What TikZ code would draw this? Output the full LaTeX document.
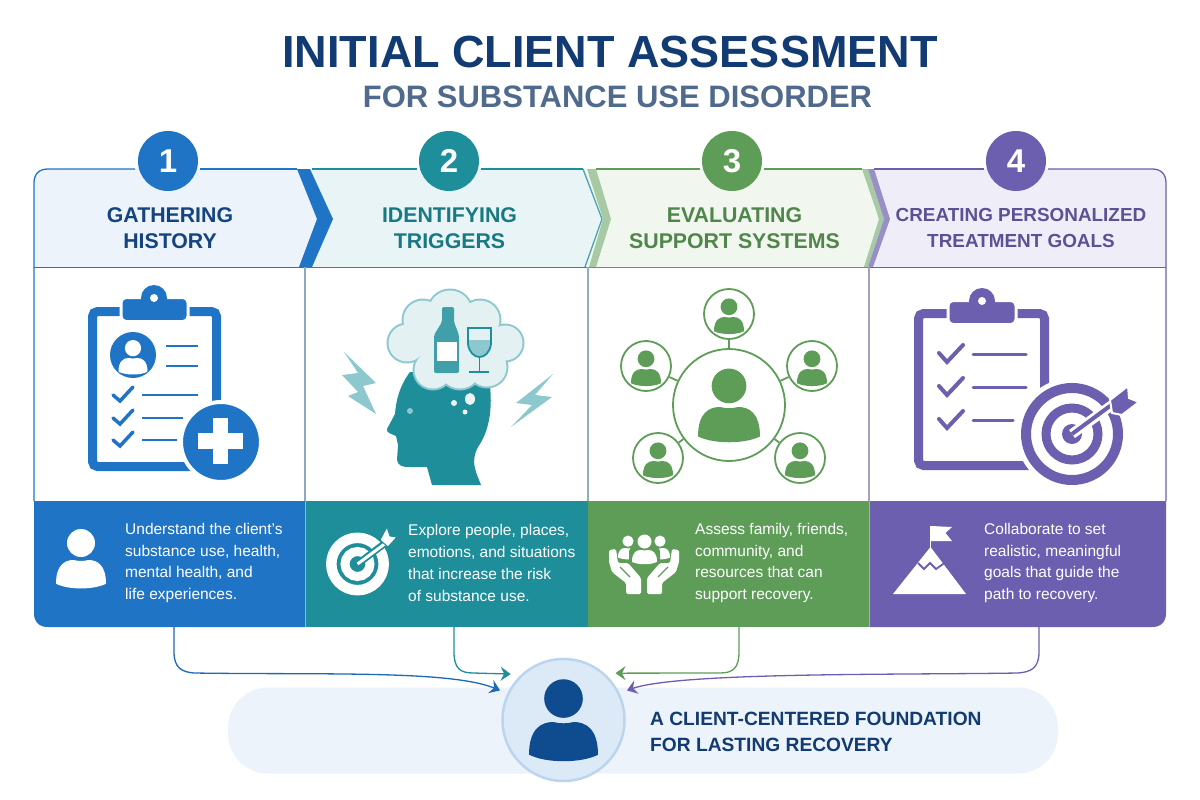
\documentclass[tikz,border=0pt]{standalone}
\usepackage{fontspec}
\setmainfont{Liberation Sans}
\usetikzlibrary{arrows.meta,shapes.geometric}

\definecolor{colblue}{HTML}{1F74C6}
\definecolor{colteal}{HTML}{1E8E9A}
\definecolor{colgreen}{HTML}{5E9D58}
\definecolor{colpurple}{HTML}{6C5FAF}
\definecolor{navy}{HTML}{123B73}
\definecolor{slate}{HTML}{4F6A8C}
\definecolor{paleblue}{HTML}{EDF3FB}
\definecolor{paleteal}{HTML}{E8F4F6}
\definecolor{palegreen}{HTML}{F1F6EE}
\definecolor{palepurple}{HTML}{EFEEF8}
\definecolor{cloudfill}{HTML}{E3F1F3}
\definecolor{lightteal}{HTML}{8CC8CE}
\definecolor{clientblue}{HTML}{0F4C8F}
\definecolor{clientfill}{HTML}{DCEAF8}

\newcommand{\sizedfont}[2]{\fontsize{#1}{#2}\selectfont}
% person: shoulders start at the given point, head above them
\newcommand{\personicon}[4]{
	\begin{scope}[shift={(#1,#2)},scale=#3]
		\fill[#4] (0,-0.68) circle[radius=0.56];
		\fill[#4] (-1,0.95) .. controls (-1,0.2) and (-0.65,0) .. (-0.3,0) .. controls (-0.1,0.05) and (0.1,0.05) .. (0.3,0) .. controls (0.65,0) and (1,0.2) .. (1,0.95) .. controls (0.5,1.2) and (-0.5,1.2) .. cycle;
	\end{scope}
}

\tikzset{
	badge/.style={circle, minimum size=60pt, inner sep=0, text=white, font=\sizedfont{33}{33}\bfseries},
	headtext/.style={align=center, inner sep=0, font=\sizedfont{21.3}{26}\bfseries},
	bandtext/.style={align=left, anchor=west, inner sep=0, text=white, font=\sizedfont{15.5}{21.7}},
	satnode/.style={circle, draw=colgreen, line width=1.8pt, fill=white, minimum size=50pt, inner sep=0},
	linkarrow/.style={line width=1.3pt, line join=round, -{Stealth[inset=3.5pt,length=10pt,width=14pt]}},
}

\begin{document}
\begin{tikzpicture}[x=1pt, y=-1pt]
	\useasboundingbox (0,0) rectangle (1200,800);
	\fill[white] (0,0) rectangle (1200,800);

	\node[text=navy, inner sep=0, font=\sizedfont{45}{45}\bfseries] (title) at (610,52) {INITIAL CLIENT ASSESSMENT};
	\node[text=slate, inner sep=0, font=\sizedfont{31}{31}\bfseries] (subtitle) at (617.5,97) {FOR SUBSTANCE USE DISORDER};

	\fill[white] (34,169) rectangle (1166,501);

	% header strips, right to left so each tip lies on the next one
	\fill[palepurple] (869,169) -- (1152,169) .. controls (1161,169) and (1166,174) .. (1166,183) -- (1166,267) -- (869,267) -- cycle;
	\fill[palegreen] (588,169) -- (868,169) -- (884,219) -- (869,267) -- (588,267) -- cycle;
	\fill[colgreen!55] (862,169) -- (868,169) -- (884,219) -- (868,267) -- (864,267) -- (879,219) -- cycle;
	\fill[colpurple!70] (868,169) -- (874,169) -- (890,219) -- (873,267) -- (868,267) -- (884,219) -- cycle;
	\fill[paleteal] (305,169) -- (585,169) -- (603,219) -- (586,267) -- (305,267) -- cycle;
	\draw[colteal!80, line width=1.3pt] (583,169) -- (602,219) -- (585,267);
	\fill[colgreen!55] (587,169) -- (596,169) -- (611,219) -- (596,267) -- (589,267) -- (603,219) -- cycle;
	\fill[paleblue] (34,183) .. controls (34,174) and (39,169) .. (48,169) -- (300,169) -- (317,219) -- (300,267) -- (34,267) -- cycle;
	\fill[colblue] (297,169) -- (310,169) -- (333,219) -- (312,267) -- (299,267) -- (317,219) -- cycle;

	% outline and rules of the four columns
	\draw[colblue, line width=1.3pt] (34,501) -- (34,183) .. controls (34,174) and (39,169) .. (48,169) -- (135,169);
	\draw[colblue, line width=1.3pt] (200,169) -- (297,169);
	\draw[colteal, line width=1.3pt] (312,169) -- (417,169);
	\draw[colteal, line width=1.3pt] (481,169) -- (583,169);
	\draw[colgreen, line width=1.3pt] (596,169) -- (700,169);
	\draw[colgreen, line width=1.3pt] (764,169) -- (862,169);
	\draw[colpurple, line width=1.3pt] (874,169) -- (984,169);
	\draw[colpurple, line width=1.3pt] (1048,169) -- (1152,169) .. controls (1161,169) and (1166,174) .. (1166,183) -- (1166,501);
	\foreach \xa/\xb/\col in {34/305/colblue, 305/588/colteal, 588/869/colgreen, 869/1166/colpurple}{
		\draw[\col, line width=1pt] (\xa,267) -- (\xb,267);
	}
	\foreach \x/\col in {305/colblue, 588/colteal, 869/colpurple}{
		\draw[\col!50!gray!65!white, line width=1.2pt] (\x,267) -- (\x,501);
	}

	% bottom bands
	\fill[colblue] (305,501) -- (34,501) -- (34,613) .. controls (34,622) and (39,627) .. (48,627) -- (305,627) -- cycle;
	\fill[colteal] (305,501) rectangle (588,627);
	\fill[colgreen] (588,501) rectangle (869,627);
	\fill[colpurple] (869,501) -- (1166,501) -- (1166,613) .. controls (1166,622) and (1161,627) .. (1152,627) -- (869,627) -- cycle;
	\foreach \x in {305,869}{
		\draw[white, opacity=0.45, line width=1pt] (\x,501) -- (\x,627);
	}

	\foreach \x/\num/\col in {168/1/colblue, 449/2/colteal, 732/3/colgreen, 1016/4/colpurple}{
		\node[badge, fill=\col] (badge\num) at (\x,161) {\num};
	}

	\node[headtext, text=navy!85!colblue] (headone) at (170,228) {GATHERING\\HISTORY};
	\node[headtext, text=colteal!85!black] (headtwo) at (449.5,228) {IDENTIFYING\\TRIGGERS};
	\node[headtext, text=colgreen!85!black] (headthree) at (734.5,228) {EVALUATING\\SUPPORT SYSTEMS};
	\node[headtext, text=colpurple!85!black, font=\sizedfont{18.9}{26}\bfseries] (headfour) at (1021,228) {CREATING PERSONALIZED\\TREATMENT GOALS};

	% clipboard of column 1
	\draw[colblue, line width=9pt, rounded corners=5pt] (92.5,311.5) rectangle (216.5,466.5);
	\fill[colblue, draw=white, line width=3pt, rounded corners=5pt] (121,297.5) rectangle (188,321.5);
	\fill[colblue] (154,298) circle[radius=13];
	\fill[white] (154,298) circle[radius=4];
	\fill[colblue] (133,355) circle[radius=23];
	\begin{scope}
		\clip (133,355) circle[radius=22];
		\personicon{133}{358}{14.5}{white}
	\end{scope}
	\foreach \y/\xend in {346/198, 366/198}{
		\draw[colblue, line width=2.5pt] (166,\y) -- (\xend,\y);
	}
	\foreach \y/\xend in {395/198, 418/183, 440/177}{
		\draw[colblue, line cap=round, line width=3.5pt] (113,\y) -- (120,\y+6) -- (133,\y-8);
		\draw[colblue, line width=2.5pt] (142,\y) -- (\xend,\y);
	}
	\fill[colblue, draw=white, line width=4pt] (221,442) circle[radius=40];
	\fill[white] (213,418) rectangle (228,464);
	\fill[white] (198,433) rectangle (243,449);

	% head and thought cloud of column 2
	\fill[colteal] (410,372) .. controls (400,385) and (396,400) .. (395,414) -- (387,429) .. controls (386,433) and (392,434) .. (396,436) -- (398,445) -- (397,460) .. controls (398,466) and (403,467) .. (409,467) -- (427,467) -- (432,485) -- (481,485) .. controls (476,472) and (470,462) .. (478,447) .. controls (490,430) and (494,405) .. (488,372) -- cycle;
	\fill[cloudfill!70!white] (470,399) ellipse[x radius=5, y radius=6];
	\fill[cloudfill!70!white] (454,403) circle[radius=3];
	\fill[cloudfill!70!white] (465,412) circle[radius=2.5];
	\fill[lightteal] (410,411) circle[radius=3];
	\foreach \cx/\cy/\rr in {423/320/20, 450/312/22, 480/320/20, 407/343/19, 505/343/18, 433/370/19, 460/368/21, 487/367/20}{
		\fill[lightteal] (\cx,\cy) circle[radius=\rr+1.5];
	}
	\foreach \cx/\cy/\rr in {423/320/20, 450/312/22, 480/320/20, 407/343/19, 505/343/18, 433/370/19, 460/368/21, 487/367/20}{
		\fill[cloudfill] (\cx,\cy) circle[radius=\rr-0.5];
	}
	\fill[cloudfill] (455,345) circle[radius=36];
	\fill[colteal!85!white, rounded corners=2pt] (442,307) -- (454,307) -- (454,322) -- (459,335) -- (459,373) -- (434,373) -- (434,335) -- (442,322) -- cycle;
	\fill[white] (437,342) rectangle (457,361);
	\fill[lightteal] (468,340) -- (491,340) -- (491,344) .. controls (490,352) and (485,357) .. (479.5,357) .. controls (474,357) and (469,352) .. (468,344) -- cycle;
	\draw[colteal, line width=1.8pt] (468,328) -- (491,328) -- (491,344) .. controls (490,352) and (485,357) .. (479.5,357) .. controls (474,357) and (469,352) .. (468,344) -- cycle;
	\draw[colteal, line width=1.8pt] (479.5,357) -- (479.5,371);
	\draw[colteal, line width=2pt] (469,372) -- (489,372);
	\fill[lightteal] (344,352) -- (376,383) -- (363,386) -- (376,414) -- (348,396) -- (358,392) -- (342,375) -- (358,373) -- cycle;
	\fill[lightteal] (553,374) -- (516,403) -- (532,405) -- (511,427) -- (552,397) -- (535,395) -- cycle;

	% network of column 3
	\node[circle, draw=colgreen, line width=1.8pt, fill=white, minimum size=112pt, inner sep=0] (hub) at (729,405) {};
	\node[satnode] (sattop) at (729,314) {};
	\node[satnode] (satleft) at (646,366) {};
	\node[satnode] (satright) at (812,366) {};
	\node[satnode] (satlow) at (658,458) {};
	\node[satnode] (satlowr) at (800,458) {};
	\foreach \s in {sattop, satleft, satright, satlow, satlowr}{
		\draw[colgreen, line width=1.8pt] (hub) -- (\s);
	}
	\personicon{729}{407}{31}{colgreen}
	\foreach \x/\y in {729/317, 646/369, 812/369, 658/461, 800/461}{
		\personicon{\x}{\y}{15}{colgreen}
	}

	% clipboard and target of column 4
	\draw[colpurple, line width=9pt, rounded corners=5pt] (918.5,313.5) rectangle (1044.5,465.5);
	\fill[colpurple, draw=white, line width=3pt, rounded corners=5pt] (948,300.5) rectangle (1016,324.5);
	\fill[colpurple] (982,301) circle[radius=13];
	\fill[white] (982,301) circle[radius=4];
	\foreach \y/\xend in {354/1026, 387/1026, 420/1013}{
		\draw[colpurple, line cap=round, line width=4pt] (939,\y-1) -- (947,\y+8) -- (963,\y-9);
		\draw[colpurple, line cap=round, line width=3pt] (973,\y) -- (\xend,\y);
	}
	\fill[white] (1072,434) circle[radius=56];
	\draw[colpurple, line width=10pt] (1072,434) circle[radius=46];
	\draw[colpurple, line width=9pt] (1072,434) circle[radius=26];
	\fill[colpurple] (1072,434) circle[radius=10];
	\draw[white, line width=10pt] (1072,434) -- (1112,405);
	\draw[colpurple, line width=4pt] (1072,434) -- (1114,403);
	\fill[colpurple, draw=white, line width=2pt] (1110,400) -- (1128,386) -- (1129,398) -- (1139,402) -- (1122,415) -- (1112,413) -- cycle;

	% band icons
	\personicon{81}{560}{25}{white}

	\draw[white, line width=10.5pt] (357.5,564) circle[radius=26.2];
	\draw[white, line width=9pt] (357.5,564) circle[radius=12.5];
	\draw[colteal, line width=7pt] (357.5,564) -- (388,541);
	\draw[white, line width=3pt] (357.5,564) -- (390,540);
	\fill[white, draw=colteal, line width=1pt] (380,540) -- (387,527) -- (390,536) -- (397,537) -- (388,547) -- cycle;

	\foreach \sx in {1,-1}{
		\begin{scope}[shift={(644,0)}, xscale=\sx]
			\fill[white, rounded corners=1.5pt] (-35,550) -- (-28,549) -- (-26,563) -- (-16,563) -- (-3,578) -- (-3,594) -- (-18,594) -- (-18,583) -- (-32,572) -- (-35,562) -- cycle;
			\draw[colgreen, line width=1.2pt] (-24,567) -- (-14,577);
		\end{scope}
	}
	\personicon{628}{548}{10}{white}
	\personicon{660}{548}{10}{white}
	\fill[colgreen, rounded corners=6pt] (629,546) rectangle (660,566);
	\fill[colgreen] (644.5,537) circle[radius=9];
	\personicon{644.5}{550}{12.5}{white}

	\fill[white] (893,594) -- (930.5,547) -- (966,594) -- cycle;
	\draw[colpurple, line width=1.8pt] (918,563) -- (924,569) -- (930,563) -- (936,569) -- (946,562);
	\draw[white, line width=1.5pt] (930.5,526) -- (930.5,550);
	\fill[white] (931,526) -- (952,527) -- (945.5,533) -- (952,541) -- (931,541) -- cycle;

	\node[bandtext] (textone) at (125,563) {Understand the client's\\substance use, health,\\mental health, and\\life experiences.};
	\node[bandtext] (texttwo) at (408,563) {Explore people, places,\\emotions, and situations\\that increase the risk\\of substance use.};
	\node[bandtext] (textthree) at (695,563) {Assess family, friends,\\community, and\\resources that can\\support recovery.};
	\node[bandtext] (textfour) at (984,563) {Collaborate to set\\realistic, meaningful\\goals that guide the\\path to recovery.};

	% foundation
	\node[fill=paleblue, rounded corners=40pt, minimum width=830pt, minimum height=86pt, inner sep=0] (pill) at (643,730.5) {};
	\node[circle, fill=clientfill, draw=colblue!30!white, line width=2.5pt, minimum size=122pt, inner sep=0, outer sep=9pt] (client) at (563.5,720) {};
	\personicon{563.5}{722}{34.5}{clientblue}
	\node[align=left, anchor=west, inner sep=0, text=navy, font=\sizedfont{19.2}{26}\bfseries] (foundation) at (650,732) {A CLIENT-CENTERED FOUNDATION\\FOR LASTING RECOVERY};

	\coordinate (srcone) at (174,627);
	\coordinate (srctwo) at (454,627);
	\coordinate (srcthree) at (739,627);
	\coordinate (srcfour) at (1039,627);
	\draw[linkarrow, colblue!80!navy] (srcone) -- (174,652) .. controls (174,668) and (182,672) .. (194,673) .. controls (320,675) and (450,670) .. (client.155);
	\draw[linkarrow, colteal] (srctwo) -- (454,652) .. controls (454,668) and (460,673) .. (473,673) -- (client.139);
	\draw[linkarrow, colgreen] (srcthree) -- (739,652) .. controls (739,668) and (733,673) .. (720,673) -- (client.42);
	\draw[linkarrow, colpurple] (srcfour) -- (1039,652) .. controls (1039,668) and (1031,672) .. (1018,673) .. controls (900,675) and (680,672) .. (client.25);
\end{tikzpicture}
\end{document}
